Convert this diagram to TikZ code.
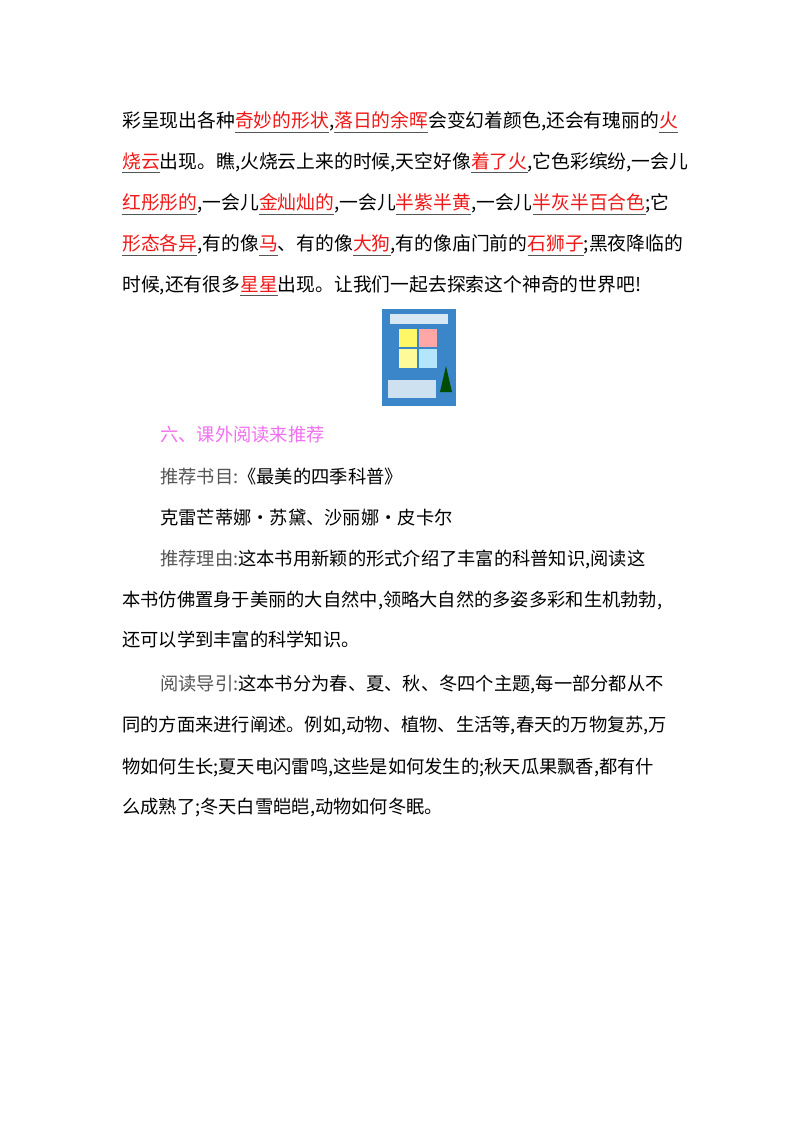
\documentclass[tikz,border=0pt]{standalone}
\usepackage{fontspec}
\setmainfont{Noto Sans CJK SC}
\definecolor{hlred}{HTML}{F01818}
\definecolor{pinkh}{HTML}{F070F0}
\definecolor{lab}{HTML}{555555}
\definecolor{bookb}{HTML}{3A86C8}
\newcommand{\hl}[1]{{\setbox0\hbox{#1}\rlap{\textcolor{lab}{\rule[-3.5pt]{\wd0}{0.6pt}}}\textcolor{hlred}{#1}}}
\tikzset{up/.style={anchor=west,inner sep=0pt,font=\fontsize{14.1pt}{16pt}\selectfont},
lo/.style={anchor=west,inner sep=0pt,font=\fontsize{13.7pt}{16pt}\selectfont}}
\begin{document}
\begin{tikzpicture}[x=0.75pt,y=-0.75pt]
\useasboundingbox (0,0) rectangle (800,1132);
\fill[white] (0,0) rectangle (800,1132);
\node[up] (l1) at (122,122) {彩呈现出各种\hl{奇妙的形状},\hl{落日的余晖}会变幻着颜色,还会有瑰丽的\hl{火}};
\node[up] (l2) at (122,163) {\hl{烧云}出现。瞧,火烧云上来的时候,天空好像\hl{着了火},它色彩缤纷,一会儿};
\node[up] (l3) at (122,204) {\hl{红彤彤的},一会儿\hl{金灿灿的},一会儿\hl{半紫半黄},一会儿\hl{半灰半百合色};它};
\node[up] (l4) at (122,245) {\hl{形态各异},有的像\hl{马}、有的像\hl{大狗},有的像庙门前的\hl{石狮子};黑夜降临的};
\node[up] (l5) at (122,286) {时候,还有很多\hl{星星}出现。让我们一起去探索这个神奇的世界吧!};
% book cover
\fill[bookb] (382,309) rectangle (456,406);
\fill[white!80!bookb] (390,314) rectangle (448,324);
\fill[yellow!60!white] (399,329) rectangle (417,347);
\fill[red!35!white] (419,329) rectangle (437,347);
\fill[yellow!40!white] (399,349) rectangle (417,368);
\fill[cyan!30!white] (419,349) rectangle (437,368);
\fill[white!75!bookb] (388,380) rectangle (436,398);
\fill[green!30!black] (446,366) -- (452,392) -- (440,392) -- cycle;
\node[lo,text=pinkh] (h) at (160,435) {六、课外阅读来推荐};
\node[lo] (b1) at (160,477) {\textcolor{lab}{推荐书目:}《最美的四季科普》};
\node[lo] (b2) at (160,518) {克雷芒蒂娜・苏黛、沙丽娜・皮卡尔};
\node[lo] (b3) at (160,559) {\textcolor{lab}{推荐理由:}这本书用新颖的形式介绍了丰富的科普知识,阅读这};
\node[lo] (b4) at (122,600) {本书仿佛置身于美丽的大自然中,领略大自然的多姿多彩和生机勃勃,};
\node[lo] (b5) at (122,640) {还可以学到丰富的科学知识。};
\node[lo] (b6) at (160,684) {\textcolor{lab}{阅读导引:}这本书分为春、夏、秋、冬四个主题,每一部分都从不};
\node[lo] (b7) at (122,725) {同的方面来进行阐述。例如,动物、植物、生活等,春天的万物复苏,万};
\node[lo] (b8) at (122,767) {物如何生长;夏天电闪雷鸣,这些是如何发生的;秋天瓜果飘香,都有什};
\node[lo] (b9) at (122,808) {么成熟了;冬天白雪皑皑,动物如何冬眠。};
\end{tikzpicture}
\end{document}
